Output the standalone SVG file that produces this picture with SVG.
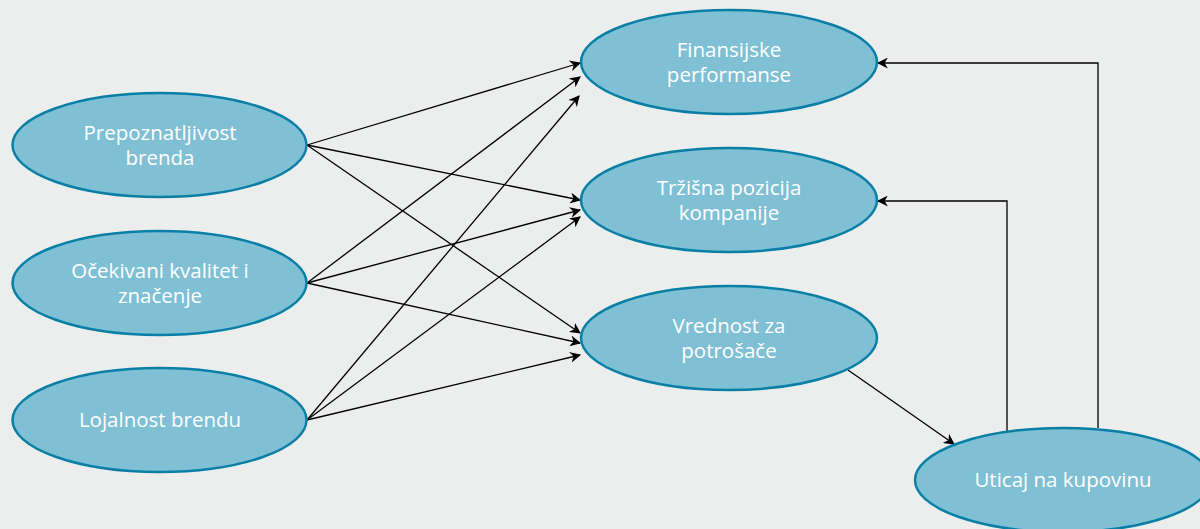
<svg xmlns="http://www.w3.org/2000/svg" width="1200" height="529" viewBox="0 0 1200 529">
<style>
.node ellipse{fill:#7fc0d5;stroke:#0a7fa5;stroke-width:2.5}
.node text{fill:#ffffff;font-family:"Open Sans","Liberation Sans",sans-serif;font-size:20.5px;text-anchor:middle}
.conn line,.conn polyline{stroke:#000;stroke-width:1.3;fill:none;marker-end:url(#arr)}
</style>
<defs>
<marker id="arr" viewBox="0 0 10 10" refX="9" refY="5" markerWidth="11" markerHeight="11" markerUnits="userSpaceOnUse" orient="auto">
<path d="M0,0 L10,5 L0,10 L3,5 Z" fill="#000"/>
</marker>
</defs>
<rect width="1200" height="529" fill="#eceeed"/>
<g id="connectors" class="conn">
<line x1="307" y1="145" x2="580" y2="63"/>
<line x1="307" y1="145" x2="580" y2="200"/>
<line x1="307" y1="145" x2="580" y2="333"/>
<line x1="307" y1="283" x2="580" y2="77"/>
<line x1="307" y1="283" x2="580" y2="210"/>
<line x1="307" y1="283" x2="580" y2="343"/>
<line x1="307" y1="420" x2="579" y2="96"/>
<line x1="307" y1="420" x2="580" y2="217"/>
<line x1="307" y1="420" x2="580" y2="355"/>
<line x1="848" y1="370" x2="954" y2="444"/>
<polyline points="1098,428 1098,63 878,63"/>
<polyline points="1007,431 1007,201 878,201"/>
</g>
<g id="n1" class="node"><ellipse cx="159.5" cy="145" rx="147" ry="52"/><text x="160" y="140">Prepoznatljivost<tspan x="160" dy="25">brenda</tspan></text></g>
<g id="n2" class="node"><ellipse cx="159.5" cy="283" rx="147" ry="52"/><text x="160" y="278">Očekivani kvalitet i<tspan x="160" dy="25">značenje</tspan></text></g>
<g id="n3" class="node"><ellipse cx="159.5" cy="420" rx="147" ry="52"/><text x="160" y="427">Lojalnost brendu</text></g>
<g id="n4" class="node"><ellipse cx="729" cy="62" rx="148" ry="52"/><text x="729" y="57">Finansijske<tspan x="729" dy="25">performanse</tspan></text></g>
<g id="n5" class="node"><ellipse cx="729" cy="200" rx="148" ry="52"/><text x="729" y="195">Tržišna pozicija<tspan x="729" dy="25">kompanije</tspan></text></g>
<g id="n6" class="node"><ellipse cx="729" cy="338" rx="148" ry="52"/><text x="729" y="333">Vrednost za<tspan x="729" dy="25">potrošače</tspan></text></g>
<g id="n7" class="node"><ellipse cx="1063" cy="480" rx="148" ry="52"/><text x="1063" y="487">Uticaj na kupovinu</text></g>
</svg>
